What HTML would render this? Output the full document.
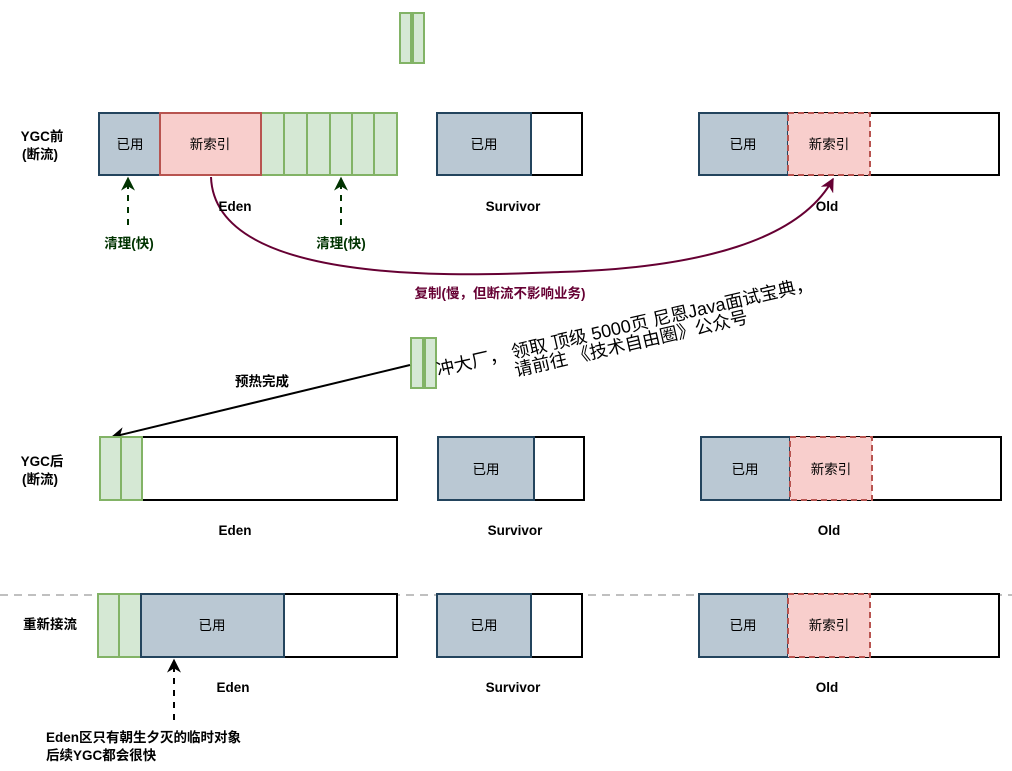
<!DOCTYPE html>
<html><head><meta charset="utf-8"><style>
html,body{margin:0;padding:0;background:#fff;width:1012px;height:771px;overflow:hidden}
text{font-family:"Liberation Sans","Noto Sans CJK SC",sans-serif;font-size:13.5px}
.b{font-weight:bold}
</style></head><body>
<svg width="1012" height="771" xmlns="http://www.w3.org/2000/svg">
<defs>
<marker id="ag" viewBox="0 0 10 10" refX="9" refY="5" markerWidth="7" markerHeight="7" orient="auto"><path d="M0,0 L10,5 L0,10 L3,5z" fill="#003300"/></marker>
<marker id="ak" viewBox="0 0 10 10" refX="9" refY="5" markerWidth="7" markerHeight="7" orient="auto"><path d="M0,0 L10,5 L0,10 L3,5z" fill="#000"/></marker>
<marker id="ar" viewBox="0 0 10 10" refX="9" refY="5" markerWidth="7" markerHeight="7" orient="auto"><path d="M0,0 L10,5 L0,10 L3,5z" fill="#660033"/></marker>
</defs>
<g stroke-width="2">
<rect x="400" y="13" width="11" height="50" fill="#d5e8d4" stroke="#82b366"/>
<rect x="413" y="13" width="11" height="50" fill="#d5e8d4" stroke="#82b366"/>
<rect x="261" y="113" width="136" height="62" fill="#d5e8d4" stroke="#82b366"/>
<path d="M284,113V175M307,113V175M330,113V175M352,113V175M374,113V175" stroke="#82b366"/>
<rect x="99" y="113" width="61" height="62" fill="#bac8d3" stroke="#23445d"/>
<rect x="160" y="113" width="101" height="62" fill="#f8cecc" stroke="#b85450"/>
<rect x="437" y="113" width="145" height="62" fill="#fff" stroke="#000"/>
<rect x="437" y="113" width="94" height="62" fill="#bac8d3" stroke="#23445d"/>
<rect x="699" y="113" width="300" height="62" fill="#fff" stroke="#000"/>
<rect x="699" y="113" width="89" height="62" fill="#bac8d3" stroke="#23445d"/>
<rect x="788" y="113" width="82" height="62" fill="#f8cecc" stroke="#b85450" stroke-dasharray="6,4"/>
<path d="M128,225V178" stroke="#003300" stroke-dasharray="6,6" marker-end="url(#ag)"/>
<path d="M341,225V178" stroke="#003300" stroke-dasharray="6,6" marker-end="url(#ag)"/>
<path d="M211,177 C215,290 480,275 560,272 C700,268 800,240 833,179" fill="none" stroke="#660033" marker-end="url(#ar)"/>
<rect x="411" y="338" width="12" height="50" fill="#d5e8d4" stroke="#82b366"/>
<rect x="425" y="338" width="11" height="50" fill="#d5e8d4" stroke="#82b366"/>
<path d="M410,365 L112,437" stroke="#000" marker-end="url(#ak)"/>
<rect x="100" y="437" width="297" height="63" fill="#fff" stroke="#000"/>
<rect x="100" y="437" width="21" height="63" fill="#d5e8d4" stroke="#82b366"/>
<rect x="121" y="437" width="21" height="63" fill="#d5e8d4" stroke="#82b366"/>
<rect x="438" y="437" width="146" height="63" fill="#fff" stroke="#000"/>
<rect x="438" y="437" width="96" height="63" fill="#bac8d3" stroke="#23445d"/>
<rect x="701" y="437" width="300" height="63" fill="#fff" stroke="#000"/>
<rect x="701" y="437" width="89" height="63" fill="#bac8d3" stroke="#23445d"/>
<rect x="790" y="437" width="82" height="63" fill="#f8cecc" stroke="#b85450" stroke-dasharray="6,4"/>
<path d="M0,595H1012" stroke="#c0c0c0" stroke-dasharray="8,6"/>
<rect x="284" y="594" width="113" height="63" fill="#fff" stroke="#000"/>
<rect x="98" y="594" width="21" height="63" fill="#d5e8d4" stroke="#82b366"/>
<rect x="119" y="594" width="22" height="63" fill="#d5e8d4" stroke="#82b366"/>
<rect x="141" y="594" width="143" height="63" fill="#bac8d3" stroke="#23445d"/>
<rect x="437" y="594" width="145" height="63" fill="#fff" stroke="#000"/>
<rect x="437" y="594" width="94" height="63" fill="#bac8d3" stroke="#23445d"/>
<rect x="699" y="594" width="300" height="63" fill="#fff" stroke="#000"/>
<rect x="699" y="594" width="89" height="63" fill="#bac8d3" stroke="#23445d"/>
<rect x="788" y="594" width="82" height="63" fill="#f8cecc" stroke="#b85450" stroke-dasharray="6,4"/>
<path d="M174,720V660" stroke="#000" stroke-dasharray="6,6" marker-end="url(#ak)"/>
</g>
<g text-anchor="middle">
<text x="130" y="149">已用</text><text x="210" y="149">新索引</text><text x="484" y="149">已用</text>
<text x="743" y="149">已用</text><text x="829" y="149">新索引</text>
<text x="486" y="474">已用</text><text x="745" y="474">已用</text><text x="831" y="474">新索引</text>
<text x="212" y="630">已用</text><text x="484" y="630">已用</text><text x="743" y="630">已用</text><text x="829" y="630">新索引</text>
<text x="235" y="211" class="b">Eden</text><text x="513" y="211" class="b">Survivor</text><text x="827" y="211" class="b">Old</text>
<text x="235" y="535" class="b">Eden</text><text x="515" y="535" class="b">Survivor</text><text x="829" y="535" class="b">Old</text>
<text x="233" y="692" class="b">Eden</text><text x="513" y="692" class="b">Survivor</text><text x="827" y="692" class="b">Old</text>
<text x="42" y="141" class="b">YGC前</text><text x="40" y="159" class="b">(断流)</text>
<text x="42" y="466" class="b">YGC后</text><text x="40" y="484" class="b">(断流)</text>
<text x="50" y="629" class="b">重新接流</text>
<text x="129" y="248" class="b" fill="#003300">清理(快)</text><text x="341" y="248" class="b" fill="#003300">清理(快)</text>
<text x="500" y="298" class="b" fill="#660033">复制(慢，但断流不影响业务)</text>
<text x="262" y="386" class="b">预热完成</text>
</g>
<text x="46" y="742" class="b">Eden区只有朝生夕灭的临时对象</text>
<text x="46" y="760" class="b">后续YGC都会很快</text>
<g transform="rotate(-13 438 376)">
<text x="438" y="376" style="font-size:18px">冲大厂， 领取 顶级  5000页 尼恩Java面试宝典，</text>
<text x="514" y="394" style="font-size:18px">请前往 《技术自由圈》公众号</text>
</g>
</svg>
</body></html>
